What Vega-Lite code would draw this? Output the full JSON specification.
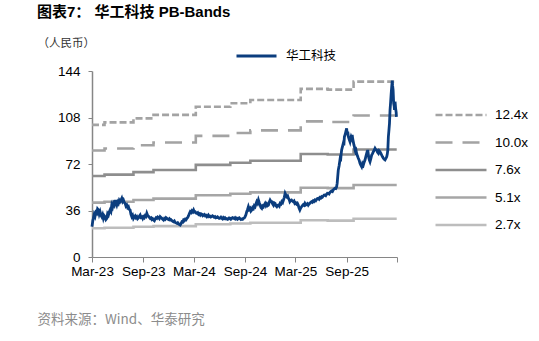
{
  "$schema": "https://vega.github.io/schema/vega-lite/v6.json",
  "width": 305,
  "height": 186,
  "autosize": {"type": "none"},
  "padding": {"left": 92, "top": 71, "right": 142, "bottom": 84},
  "background": "white",
  "title": {"text": "图表7：  华工科技 PB-Bands", "anchor": "start", "frame": "group", "dx": -55, "offset": 17, "fontSize": 15, "fontWeight": "bold", "font": "Liberation Sans, Noto Sans CJK SC", "color": "#000000"},
  "config": {"view": {"stroke": null}, "font": "Liberation Sans, Noto Sans CJK SC"},
  "datasets": {
    "bands": [
      {"date": "2023-03-01", "band": "12.4x", "pb": 102.3}, {"date": "2023-04-15", "band": "12.4x", "pb": 104.2}, {"date": "2023-07-28", "band": "12.4x", "pb": 107.3}, {"date": "2023-10-08", "band": "12.4x", "pb": 110.0}, {"date": "2024-03-08", "band": "12.4x", "pb": 116.3}, {"date": "2024-07-10", "band": "12.4x", "pb": 119.0}, {"date": "2024-09-20", "band": "12.4x", "pb": 121.5}, {"date": "2025-03-20", "band": "12.4x", "pb": 130.2}, {"date": "2025-06-25", "band": "12.4x", "pb": 129.6}, {"date": "2025-09-26", "band": "12.4x", "pb": 135.8}, {"date": "2026-02-28", "band": "12.4x", "pb": 135.8},
      {"date": "2023-03-01", "band": "10.0x", "pb": 82.5}, {"date": "2023-04-15", "band": "10.0x", "pb": 84.0}, {"date": "2023-07-28", "band": "10.0x", "pb": 86.5}, {"date": "2023-10-08", "band": "10.0x", "pb": 88.7}, {"date": "2024-03-08", "band": "10.0x", "pb": 93.8}, {"date": "2024-07-10", "band": "10.0x", "pb": 96.0}, {"date": "2024-09-20", "band": "10.0x", "pb": 98.0}, {"date": "2025-03-20", "band": "10.0x", "pb": 105.0}, {"date": "2025-06-25", "band": "10.0x", "pb": 104.5}, {"date": "2025-09-26", "band": "10.0x", "pb": 109.5}, {"date": "2026-02-28", "band": "10.0x", "pb": 109.5},
      {"date": "2023-03-01", "band": "7.6x", "pb": 62.7}, {"date": "2023-04-15", "band": "7.6x", "pb": 63.8}, {"date": "2023-07-28", "band": "7.6x", "pb": 65.7}, {"date": "2023-10-08", "band": "7.6x", "pb": 67.4}, {"date": "2024-03-08", "band": "7.6x", "pb": 71.3}, {"date": "2024-07-10", "band": "7.6x", "pb": 73.0}, {"date": "2024-09-20", "band": "7.6x", "pb": 74.5}, {"date": "2025-03-20", "band": "7.6x", "pb": 79.8}, {"date": "2025-06-25", "band": "7.6x", "pb": 79.4}, {"date": "2025-09-26", "band": "7.6x", "pb": 83.2}, {"date": "2026-02-28", "band": "7.6x", "pb": 83.2},
      {"date": "2023-03-01", "band": "5.1x", "pb": 42.1}, {"date": "2023-04-15", "band": "5.1x", "pb": 42.8}, {"date": "2023-07-28", "band": "5.1x", "pb": 44.1}, {"date": "2023-10-08", "band": "5.1x", "pb": 45.2}, {"date": "2024-03-08", "band": "5.1x", "pb": 47.8}, {"date": "2024-07-10", "band": "5.1x", "pb": 49.0}, {"date": "2024-09-20", "band": "5.1x", "pb": 50.0}, {"date": "2025-03-20", "band": "5.1x", "pb": 53.6}, {"date": "2025-06-25", "band": "5.1x", "pb": 53.3}, {"date": "2025-09-26", "band": "5.1x", "pb": 55.8}, {"date": "2026-02-28", "band": "5.1x", "pb": 55.8},
      {"date": "2023-03-01", "band": "2.7x", "pb": 22.3}, {"date": "2023-04-15", "band": "2.7x", "pb": 22.7}, {"date": "2023-07-28", "band": "2.7x", "pb": 23.4}, {"date": "2023-10-08", "band": "2.7x", "pb": 23.9}, {"date": "2024-03-08", "band": "2.7x", "pb": 25.3}, {"date": "2024-07-10", "band": "2.7x", "pb": 25.9}, {"date": "2024-09-20", "band": "2.7x", "pb": 26.5}, {"date": "2025-03-20", "band": "2.7x", "pb": 28.4}, {"date": "2025-06-25", "band": "2.7x", "pb": 28.2}, {"date": "2025-09-26", "band": "2.7x", "pb": 29.6}, {"date": "2026-02-28", "band": "2.7x", "pb": 29.6}
    ],
    "price": [
      {"date": "2023-03-01", "close": 23.5}, {"date": "2023-03-04", "close": 28.2}, {"date": "2023-03-06", "close": 29.9}, {"date": "2023-03-09", "close": 33.0}, {"date": "2023-03-12", "close": 31.5}, {"date": "2023-03-15", "close": 34.6}, {"date": "2023-03-18", "close": 33.8}, {"date": "2023-03-21", "close": 37.2}, {"date": "2023-03-24", "close": 36.4}, {"date": "2023-03-27", "close": 33.2}, {"date": "2023-03-30", "close": 35.1}, {"date": "2023-04-02", "close": 32.4}, {"date": "2023-04-05", "close": 31.2}, {"date": "2023-04-08", "close": 32.8}, {"date": "2023-04-11", "close": 29.9}, {"date": "2023-04-14", "close": 31.9}, {"date": "2023-04-17", "close": 31.0}, {"date": "2023-04-20", "close": 29.0}, {"date": "2023-04-23", "close": 29.9}, {"date": "2023-04-26", "close": 33.5}, {"date": "2023-04-29", "close": 32.5},
      {"date": "2023-05-02", "close": 34.8}, {"date": "2023-05-05", "close": 36.4}, {"date": "2023-05-08", "close": 35.2}, {"date": "2023-05-11", "close": 40.2}, {"date": "2023-05-14", "close": 38.6}, {"date": "2023-05-17", "close": 41.5}, {"date": "2023-05-20", "close": 40.3}, {"date": "2023-05-23", "close": 44.1}, {"date": "2023-05-26", "close": 42.0}, {"date": "2023-05-29", "close": 40.2}, {"date": "2023-06-01", "close": 42.6}, {"date": "2023-06-04", "close": 41.5}, {"date": "2023-06-07", "close": 43.9}, {"date": "2023-06-10", "close": 42.8}, {"date": "2023-06-13", "close": 44.0}, {"date": "2023-06-16", "close": 45.4}, {"date": "2023-06-19", "close": 43.0}, {"date": "2023-06-22", "close": 44.1}, {"date": "2023-06-25", "close": 42.2}, {"date": "2023-06-28", "close": 41.5},
      {"date": "2023-07-01", "close": 39.4}, {"date": "2023-07-04", "close": 40.2}, {"date": "2023-07-07", "close": 38.2}, {"date": "2023-07-10", "close": 38.9}, {"date": "2023-07-13", "close": 36.9}, {"date": "2023-07-16", "close": 36.4}, {"date": "2023-07-19", "close": 33.0}, {"date": "2023-07-22", "close": 31.2}, {"date": "2023-07-25", "close": 32.3}, {"date": "2023-07-28", "close": 29.9}, {"date": "2023-07-31", "close": 31.0}, {"date": "2023-08-03", "close": 31.8}, {"date": "2023-08-06", "close": 30.4}, {"date": "2023-08-09", "close": 31.2}, {"date": "2023-08-12", "close": 29.6}, {"date": "2023-08-15", "close": 30.2}, {"date": "2023-08-18", "close": 31.6}, {"date": "2023-08-21", "close": 32.5}, {"date": "2023-08-24", "close": 30.6}, {"date": "2023-08-27", "close": 31.0}, {"date": "2023-08-30", "close": 29.8},
      {"date": "2023-09-02", "close": 31.2}, {"date": "2023-09-05", "close": 30.5}, {"date": "2023-09-08", "close": 32.0}, {"date": "2023-09-11", "close": 31.4}, {"date": "2023-09-14", "close": 33.8}, {"date": "2023-09-17", "close": 32.1}, {"date": "2023-09-20", "close": 31.5}, {"date": "2023-09-23", "close": 30.7}, {"date": "2023-09-26", "close": 29.9}, {"date": "2023-09-29", "close": 30.3}, {"date": "2023-10-02", "close": 29.0}, {"date": "2023-10-05", "close": 29.6}, {"date": "2023-10-08", "close": 28.6}, {"date": "2023-10-11", "close": 28.1}, {"date": "2023-10-14", "close": 29.5}, {"date": "2023-10-17", "close": 30.4}, {"date": "2023-10-20", "close": 29.9}, {"date": "2023-10-23", "close": 31.0}, {"date": "2023-10-26", "close": 30.5}, {"date": "2023-10-29", "close": 29.7},
      {"date": "2023-11-01", "close": 31.2}, {"date": "2023-11-04", "close": 30.6}, {"date": "2023-11-07", "close": 30.0}, {"date": "2023-11-10", "close": 29.2}, {"date": "2023-11-13", "close": 28.6}, {"date": "2023-11-16", "close": 29.8}, {"date": "2023-11-19", "close": 29.2}, {"date": "2023-11-22", "close": 30.4}, {"date": "2023-11-25", "close": 29.9}, {"date": "2023-11-28", "close": 29.3}, {"date": "2023-12-01", "close": 29.0}, {"date": "2023-12-04", "close": 29.6}, {"date": "2023-12-07", "close": 28.6}, {"date": "2023-12-10", "close": 28.9}, {"date": "2023-12-13", "close": 28.2}, {"date": "2023-12-16", "close": 27.6}, {"date": "2023-12-19", "close": 27.3}, {"date": "2023-12-22", "close": 27.9}, {"date": "2023-12-25", "close": 26.8}, {"date": "2023-12-28", "close": 26.4}, {"date": "2023-12-31", "close": 26.0},
      {"date": "2024-01-03", "close": 26.5}, {"date": "2024-01-06", "close": 25.6}, {"date": "2024-01-09", "close": 25.2}, {"date": "2024-01-12", "close": 24.8}, {"date": "2024-01-15", "close": 25.9}, {"date": "2024-01-18", "close": 27.3}, {"date": "2024-01-21", "close": 27.0}, {"date": "2024-01-24", "close": 28.6}, {"date": "2024-01-27", "close": 28.1}, {"date": "2024-01-30", "close": 29.2}, {"date": "2024-02-02", "close": 28.8}, {"date": "2024-02-05", "close": 29.9}, {"date": "2024-02-08", "close": 30.6}, {"date": "2024-02-11", "close": 32.0}, {"date": "2024-02-14", "close": 33.6}, {"date": "2024-02-17", "close": 35.1}, {"date": "2024-02-20", "close": 34.4}, {"date": "2024-02-23", "close": 35.8}, {"date": "2024-02-26", "close": 35.0}, {"date": "2024-02-29", "close": 36.4},
      {"date": "2024-03-03", "close": 34.8}, {"date": "2024-03-06", "close": 35.0}, {"date": "2024-03-09", "close": 34.0}, {"date": "2024-03-12", "close": 33.8}, {"date": "2024-03-15", "close": 34.3}, {"date": "2024-03-18", "close": 33.0}, {"date": "2024-03-21", "close": 33.5}, {"date": "2024-03-24", "close": 32.5}, {"date": "2024-03-27", "close": 33.4}, {"date": "2024-03-30", "close": 33.0}, {"date": "2024-04-02", "close": 32.0}, {"date": "2024-04-05", "close": 32.5}, {"date": "2024-04-08", "close": 32.9}, {"date": "2024-04-11", "close": 31.8}, {"date": "2024-04-14", "close": 32.2}, {"date": "2024-04-17", "close": 31.2}, {"date": "2024-04-20", "close": 31.9}, {"date": "2024-04-22", "close": 32.5}, {"date": "2024-04-25", "close": 31.3}, {"date": "2024-04-28", "close": 31.6},
      {"date": "2024-05-01", "close": 30.9}, {"date": "2024-05-04", "close": 31.2}, {"date": "2024-05-07", "close": 31.9}, {"date": "2024-05-10", "close": 31.5}, {"date": "2024-05-13", "close": 30.8}, {"date": "2024-05-16", "close": 31.2}, {"date": "2024-05-19", "close": 30.3}, {"date": "2024-05-22", "close": 30.6}, {"date": "2024-05-25", "close": 31.1}, {"date": "2024-05-28", "close": 30.4}, {"date": "2024-05-31", "close": 29.9}, {"date": "2024-06-03", "close": 30.2}, {"date": "2024-06-06", "close": 30.8}, {"date": "2024-06-09", "close": 29.9}, {"date": "2024-06-12", "close": 29.4}, {"date": "2024-06-15", "close": 30.5}, {"date": "2024-06-18", "close": 29.8}, {"date": "2024-06-21", "close": 30.4}, {"date": "2024-06-24", "close": 29.6}, {"date": "2024-06-27", "close": 29.8}, {"date": "2024-06-30", "close": 29.1},
      {"date": "2024-07-03", "close": 29.4}, {"date": "2024-07-06", "close": 30.2}, {"date": "2024-07-09", "close": 30.0}, {"date": "2024-07-12", "close": 29.3}, {"date": "2024-07-15", "close": 29.9}, {"date": "2024-07-18", "close": 30.5}, {"date": "2024-07-21", "close": 30.2}, {"date": "2024-07-24", "close": 29.7}, {"date": "2024-07-27", "close": 30.4}, {"date": "2024-07-30", "close": 29.5}, {"date": "2024-08-02", "close": 30.0}, {"date": "2024-08-05", "close": 29.3}, {"date": "2024-08-08", "close": 29.9}, {"date": "2024-08-11", "close": 30.3}, {"date": "2024-08-14", "close": 29.6}, {"date": "2024-08-17", "close": 29.0}, {"date": "2024-08-20", "close": 29.4}, {"date": "2024-08-23", "close": 29.2}, {"date": "2024-08-26", "close": 30.0}, {"date": "2024-08-29", "close": 30.2},
      {"date": "2024-09-01", "close": 31.2}, {"date": "2024-09-04", "close": 32.6}, {"date": "2024-09-07", "close": 35.1}, {"date": "2024-09-10", "close": 36.8}, {"date": "2024-09-13", "close": 38.9}, {"date": "2024-09-16", "close": 36.9}, {"date": "2024-09-19", "close": 37.7}, {"date": "2024-09-22", "close": 35.6}, {"date": "2024-09-25", "close": 36.4}, {"date": "2024-09-28", "close": 38.2}, {"date": "2024-10-01", "close": 37.5}, {"date": "2024-10-04", "close": 39.6}, {"date": "2024-10-07", "close": 38.9}, {"date": "2024-10-10", "close": 41.0}, {"date": "2024-10-13", "close": 42.8}, {"date": "2024-10-16", "close": 41.6}, {"date": "2024-10-19", "close": 44.1}, {"date": "2024-10-22", "close": 42.0}, {"date": "2024-10-25", "close": 40.2}, {"date": "2024-10-28", "close": 38.4}, {"date": "2024-10-31", "close": 37.7},
      {"date": "2024-11-03", "close": 39.5}, {"date": "2024-11-06", "close": 38.9}, {"date": "2024-11-09", "close": 40.4}, {"date": "2024-11-12", "close": 41.5}, {"date": "2024-11-15", "close": 39.8}, {"date": "2024-11-18", "close": 41.0}, {"date": "2024-11-21", "close": 39.7}, {"date": "2024-11-24", "close": 40.2}, {"date": "2024-11-27", "close": 42.5}, {"date": "2024-11-30", "close": 44.1}, {"date": "2024-12-03", "close": 43.0}, {"date": "2024-12-06", "close": 42.8}, {"date": "2024-12-09", "close": 41.2}, {"date": "2024-12-12", "close": 40.2}, {"date": "2024-12-15", "close": 41.9}, {"date": "2024-12-18", "close": 41.5}, {"date": "2024-12-21", "close": 39.6}, {"date": "2024-12-24", "close": 38.9}, {"date": "2024-12-27", "close": 39.9}, {"date": "2024-12-30", "close": 40.2},
      {"date": "2025-01-02", "close": 39.4}, {"date": "2025-01-05", "close": 41.5}, {"date": "2025-01-08", "close": 41.0}, {"date": "2025-01-11", "close": 42.8}, {"date": "2025-01-14", "close": 42.1}, {"date": "2025-01-17", "close": 44.1}, {"date": "2025-01-20", "close": 46.2}, {"date": "2025-01-23", "close": 49.3}, {"date": "2025-01-26", "close": 47.9}, {"date": "2025-01-29", "close": 46.7}, {"date": "2025-02-01", "close": 47.3}, {"date": "2025-02-04", "close": 45.4}, {"date": "2025-02-07", "close": 44.2}, {"date": "2025-02-09", "close": 42.8}, {"date": "2025-02-12", "close": 43.7}, {"date": "2025-02-15", "close": 44.1}, {"date": "2025-02-18", "close": 43.3}, {"date": "2025-02-21", "close": 42.8}, {"date": "2025-02-24", "close": 43.4}, {"date": "2025-02-27", "close": 41.5},
      {"date": "2025-03-02", "close": 42.0}, {"date": "2025-03-05", "close": 41.0}, {"date": "2025-03-08", "close": 41.6}, {"date": "2025-03-11", "close": 40.2}, {"date": "2025-03-14", "close": 38.0}, {"date": "2025-03-17", "close": 36.4}, {"date": "2025-03-20", "close": 37.9}, {"date": "2025-03-23", "close": 38.9}, {"date": "2025-03-26", "close": 39.8}, {"date": "2025-03-29", "close": 40.5}, {"date": "2025-04-01", "close": 40.0}, {"date": "2025-04-04", "close": 41.5}, {"date": "2025-04-07", "close": 40.3}, {"date": "2025-04-10", "close": 40.8}, {"date": "2025-04-13", "close": 41.3}, {"date": "2025-04-16", "close": 40.2}, {"date": "2025-04-19", "close": 41.1}, {"date": "2025-04-22", "close": 41.5}, {"date": "2025-04-25", "close": 42.3}, {"date": "2025-04-28", "close": 42.8},
      {"date": "2025-05-01", "close": 42.4}, {"date": "2025-05-04", "close": 43.5}, {"date": "2025-05-07", "close": 43.0}, {"date": "2025-05-10", "close": 44.1}, {"date": "2025-05-13", "close": 43.6}, {"date": "2025-05-16", "close": 44.6}, {"date": "2025-05-19", "close": 45.3}, {"date": "2025-05-22", "close": 45.4}, {"date": "2025-05-25", "close": 44.8}, {"date": "2025-05-28", "close": 46.0}, {"date": "2025-05-31", "close": 45.6}, {"date": "2025-06-03", "close": 46.7}, {"date": "2025-06-06", "close": 46.3}, {"date": "2025-06-09", "close": 47.2}, {"date": "2025-06-12", "close": 47.9}, {"date": "2025-06-15", "close": 48.0}, {"date": "2025-06-18", "close": 47.5}, {"date": "2025-06-21", "close": 48.5}, {"date": "2025-06-24", "close": 49.4}, {"date": "2025-06-27", "close": 49.3}, {"date": "2025-06-30", "close": 48.8},
      {"date": "2025-07-03", "close": 50.0}, {"date": "2025-07-06", "close": 50.6}, {"date": "2025-07-09", "close": 51.1}, {"date": "2025-07-12", "close": 50.7}, {"date": "2025-07-15", "close": 52.0}, {"date": "2025-07-18", "close": 52.6}, {"date": "2025-07-21", "close": 53.2}, {"date": "2025-07-24", "close": 53.0}, {"date": "2025-07-27", "close": 54.4}, {"date": "2025-07-29", "close": 57.0}, {"date": "2025-07-31", "close": 62.2}, {"date": "2025-08-02", "close": 67.3}, {"date": "2025-08-05", "close": 70.6}, {"date": "2025-08-08", "close": 75.1}, {"date": "2025-08-10", "close": 74.0}, {"date": "2025-08-12", "close": 78.9}, {"date": "2025-08-14", "close": 82.8}, {"date": "2025-08-17", "close": 85.5}, {"date": "2025-08-20", "close": 88.0}, {"date": "2025-08-22", "close": 86.4}, {"date": "2025-08-24", "close": 93.1}, {"date": "2025-08-27", "close": 95.0}, {"date": "2025-08-29", "close": 97.0},
      {"date": "2025-09-01", "close": 99.6}, {"date": "2025-09-03", "close": 95.4}, {"date": "2025-09-05", "close": 97.0}, {"date": "2025-09-07", "close": 93.3}, {"date": "2025-09-09", "close": 91.9}, {"date": "2025-09-11", "close": 90.5}, {"date": "2025-09-13", "close": 89.3}, {"date": "2025-09-15", "close": 91.6}, {"date": "2025-09-17", "close": 93.1}, {"date": "2025-09-19", "close": 92.0}, {"date": "2025-09-21", "close": 94.4}, {"date": "2025-09-23", "close": 91.3}, {"date": "2025-09-25", "close": 89.3}, {"date": "2025-09-27", "close": 86.9}, {"date": "2025-09-29", "close": 85.4}, {"date": "2025-10-01", "close": 83.0}, {"date": "2025-10-03", "close": 81.5}, {"date": "2025-10-05", "close": 82.4}, {"date": "2025-10-07", "close": 80.2}, {"date": "2025-10-10", "close": 78.1}, {"date": "2025-10-13", "close": 76.4}, {"date": "2025-10-16", "close": 74.9}, {"date": "2025-10-19", "close": 72.5}, {"date": "2025-10-22", "close": 71.1}, {"date": "2025-10-25", "close": 69.9}, {"date": "2025-10-28", "close": 72.3}, {"date": "2025-10-31", "close": 71.2},
      {"date": "2025-11-03", "close": 73.4}, {"date": "2025-11-06", "close": 75.1}, {"date": "2025-11-09", "close": 77.7}, {"date": "2025-11-12", "close": 80.2}, {"date": "2025-11-14", "close": 79.6}, {"date": "2025-11-16", "close": 82.8}, {"date": "2025-11-18", "close": 79.4}, {"date": "2025-11-20", "close": 76.4}, {"date": "2025-11-22", "close": 74.9}, {"date": "2025-11-24", "close": 73.8}, {"date": "2025-11-27", "close": 76.2}, {"date": "2025-11-30", "close": 78.9}, {"date": "2025-12-03", "close": 80.0}, {"date": "2025-12-06", "close": 81.5}, {"date": "2025-12-09", "close": 82.6}, {"date": "2025-12-12", "close": 84.1}, {"date": "2025-12-15", "close": 83.0}, {"date": "2025-12-18", "close": 82.8}, {"date": "2025-12-21", "close": 81.0}, {"date": "2025-12-24", "close": 80.2}, {"date": "2025-12-27", "close": 82.2}, {"date": "2025-12-30", "close": 81.5},
      {"date": "2026-01-02", "close": 80.1}, {"date": "2026-01-05", "close": 78.9}, {"date": "2026-01-08", "close": 77.6}, {"date": "2026-01-11", "close": 76.4}, {"date": "2026-01-14", "close": 75.6}, {"date": "2026-01-17", "close": 75.1}, {"date": "2026-01-20", "close": 76.3}, {"date": "2026-01-23", "close": 77.6}, {"date": "2026-01-25", "close": 79.5}, {"date": "2026-01-27", "close": 82.8}, {"date": "2026-01-29", "close": 93.1}, {"date": "2026-01-31", "close": 98.0}, {"date": "2026-02-02", "close": 103.5}, {"date": "2026-02-04", "close": 113.8}, {"date": "2026-02-06", "close": 119.5}, {"date": "2026-02-08", "close": 126.1}, {"date": "2026-02-10", "close": 131.8}, {"date": "2026-02-12", "close": 136.5}, {"date": "2026-02-13", "close": 133.0}, {"date": "2026-02-15", "close": 129.3}, {"date": "2026-02-17", "close": 119.0}, {"date": "2026-02-19", "close": 116.5}, {"date": "2026-02-20", "close": 113.8}, {"date": "2026-02-22", "close": 120.2}, {"date": "2026-02-24", "close": 115.1}, {"date": "2026-02-26", "close": 112.0}, {"date": "2026-02-27", "close": 108.5}
    ]
  },
  "layer": [
    {
      "data": {"name": "bands"},
      "mark": {"type": "line", "interpolate": "step-after"},
      "encoding": {
        "x": {
          "field": "date", "type": "temporal",
          "scale": {"domain": [{"year": 2023, "month": 3, "date": 1}, {"year": 2026, "month": 3, "date": 1}]},
          "axis": {
            "values": [{"year": 2023, "month": 3, "date": 1}, {"year": 2023, "month": 9, "date": 1}, {"year": 2024, "month": 3, "date": 1}, {"year": 2024, "month": 9, "date": 1}, {"year": 2025, "month": 3, "date": 1}, {"year": 2025, "month": 9, "date": 1}, {"year": 2026, "month": 3, "date": 1}],
            "labelExpr": "datum.value >= datetime(2026, 0, 15) ? '' : timeFormat(datum.value, '%b-%y')",
            "grid": false, "tickSize": 5, "tickColor": "#868686", "domainColor": "#868686", "domainWidth": 1.2,
            "labelPadding": 2, "labelFontSize": 13.5, "labelFont": "Liberation Sans", "labelColor": "#000000", "labelFlush": false, "labelOverlap": false,
            "title": "资料来源：Wind、华泰研究", "titleX": -55, "titleY": 62, "titleAlign": "left", "titleBaseline": "middle", "titleAnchor": "start",
            "titleFontSize": 13.5, "titleFontWeight": "normal", "titleColor": "#8c8c8c", "titleFont": "Noto Sans CJK SC"
          }
        },
        "y": {
          "field": "pb", "type": "quantitative",
          "scale": {"domain": [0, 144], "nice": false},
          "axis": {
            "values": [0, 36, 72, 108, 144], "grid": false, "domainColor": "#868686", "domainWidth": 1.5, "tickColor": "#868686", "tickSize": 4,
            "labelFontSize": 13.5, "labelFont": "Liberation Sans", "labelColor": "#000000", "labelPadding": 8,
            "title": "（人民币）", "titleAngle": 0, "titleAlign": "left", "titleBaseline": "middle", "titleX": -55, "titleY": -28,
            "titleFontSize": 11.5, "titleFontWeight": "normal", "titleFont": "Noto Sans CJK SC", "titleColor": "#333333"
          }
        },
        "color": {
          "field": "band", "type": "nominal",
          "scale": {"domain": ["12.4x", "10.0x", "7.6x", "5.1x", "2.7x"], "range": ["#a3a3a3", "#a3a3a3", "#8e8e8e", "#a6a6a6", "#bdbdbd"]},
          "legend": {"title": null, "orient": "none", "legendX": 342, "legendY": 37, "symbolType": "stroke", "symbolSize": 2601, "symbolStrokeWidth": 2.4, "labelOffset": 7, "labelFontSize": 13.5, "labelFont": "Liberation Sans", "labelColor": "#000000", "clipHeight": 14, "rowPadding": 13.5, "padding": 0}
        },
        "strokeDash": {
          "field": "band", "type": "nominal",
          "scale": {"domain": ["12.4x", "10.0x", "7.6x", "5.1x", "2.7x"], "range": [[7, 3], [17, 10], [1, 0], [1, 0], [1, 0]]},
          "legend": {"title": null, "orient": "none", "legendX": 342, "legendY": 37, "symbolType": "stroke", "symbolSize": 2601, "symbolStrokeWidth": 2.4, "labelOffset": 7, "labelFontSize": 13.5, "labelFont": "Liberation Sans", "labelColor": "#000000", "clipHeight": 14, "rowPadding": 13.5, "padding": 0}
        },
        "strokeWidth": {
          "field": "band", "type": "nominal",
          "scale": {"domain": ["12.4x", "10.0x", "7.6x", "5.1x", "2.7x"], "range": [2.6, 2.6, 2, 1.6, 1.4]},
          "legend": null
        }
      }
    },
    {
      "data": {"name": "price"},
      "mark": {"type": "line", "strokeWidth": 2.8},
      "encoding": {
        "x": {"field": "date", "type": "temporal"},
        "y": {"field": "close", "type": "quantitative"},
        "stroke": {
          "datum": "华工科技",
          "scale": {"range": ["#0b3d7e"]},
          "legend": {"title": null, "orient": "none", "legendX": 143, "legendY": -22, "symbolType": "stroke", "symbolSize": 1600, "symbolStrokeWidth": 3, "labelOffset": 8, "labelFontSize": 12.5, "labelFont": "Noto Sans CJK SC", "labelColor": "#000000", "clipHeight": 14, "padding": 0}
        }
      }
    }
  ]
}
